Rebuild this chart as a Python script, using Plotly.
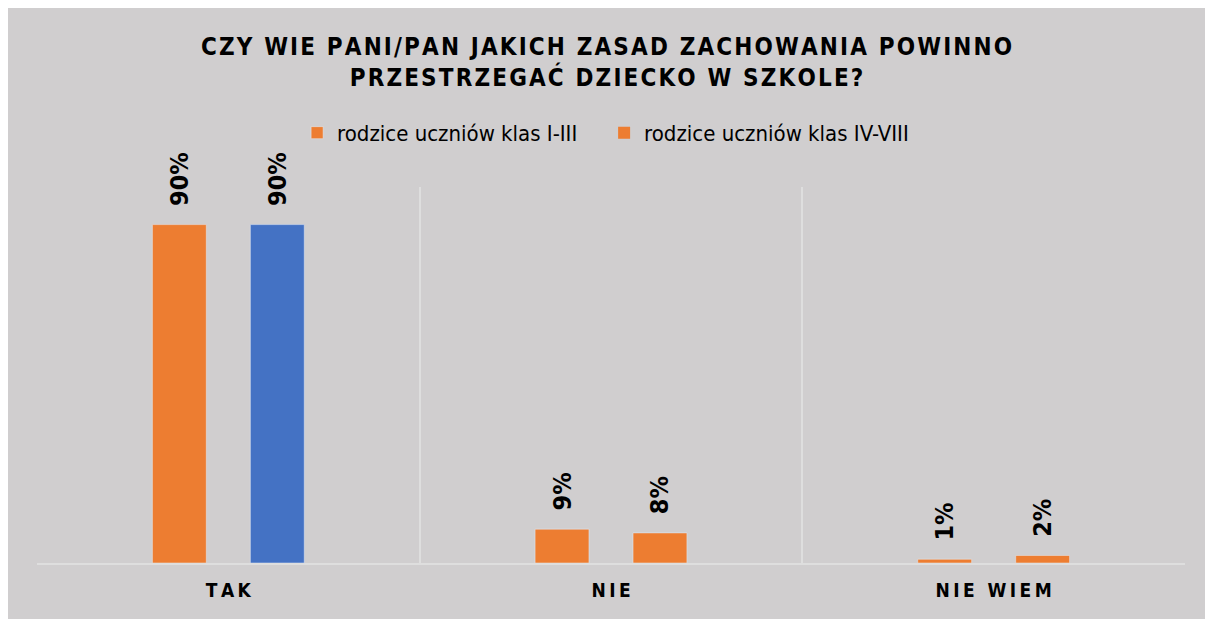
import plotly.graph_objects as go

categories = ["TAK", "NIE", "NIE WIEM"]
series_names = ["rodzice uczniów klas I-III", "rodzice uczniów klas IV-VIII"]
values_1_3 = [90, 9, 1]
values_4_8 = [90, 8, 2]
title_lines = ["CZY WIE PANI/PAN JAKICH ZASAD ZACHOWANIA POWINNO", "PRZESTRZEGAĆ DZIECKO W SZKOLE?"]

ORANGE = "#ed7d31"
BLUE = "#4472c4"
BG = "#d0cecf"
FONT = "DejaVu Sans Condensed, DejaVu Sans, sans-serif"


def spaced(s, sep="\u200a"):
    return sep.join(list(s))


def labels(vals):
    return ["\u00a0\u00a0" + f"{v}%" for v in vals]


label_font = dict(family=FONT, size=25, color="#000000", weight="bold")

fig = go.Figure()
fig.add_trace(go.Bar(
    x=categories, y=values_1_3, name=series_names[0],
    marker=dict(color=ORANGE),
    text=labels(values_1_3), textposition="outside", textangle=-90,
    textfont=label_font, constraintext="none",
    cliponaxis=False,
))
fig.add_trace(go.Bar(
    x=categories, y=values_4_8, name=series_names[1],
    marker=dict(color=[BLUE, ORANGE, ORANGE]),
    text=labels(values_4_8), textposition="outside", textangle=-90,
    textfont=label_font, constraintext="none",
    cliponaxis=False, showlegend=False,
))
# legend swatch for the second series is orange in the reference
fig.add_trace(go.Scatter(
    x=[None], y=[None], mode="markers", name=series_names[1],
    marker=dict(symbol="square", size=12, color=ORANGE),
))

fig.update_layout(
    width=1197, height=611,
    paper_bgcolor=BG, plot_bgcolor=BG,
    margin=dict(l=29, r=20, t=179, b=56),
    barmode="group", bargap=0.488, bargroupgap=0.45,
    title=dict(
        text="<br>".join(spaced(t) for t in title_lines),
        x=0.5, xanchor="center", y=0.923, yanchor="top",
        font=dict(family=FONT, size=24, color="#000000", weight="bold"),
    ),
    legend=dict(
        orientation="h", x=0.494, xanchor="center", y=1.144, yanchor="middle",
        font=dict(family=FONT, size=22, color="#000000"),
        bgcolor="rgba(0,0,0,0)", itemwidth=30, tracegroupgap=0,
        entrywidth=262, entrywidthmode="pixels",
    ),
    showlegend=True,
)
fig.update_xaxes(
    type="category", tickson="boundaries", showgrid=True, gridcolor="#dedede", gridwidth=1.5,
    showline=True, linecolor="#dedede", linewidth=1.5, ticks="",
    tickvals=categories, ticktext=[spaced(c, "\u2009") for c in categories],
    tickfont=dict(family=FONT, size=19, color="#000000", weight="bold"),
    ticklabelstandoff=9,
)
fig.update_yaxes(range=[0, 100], showgrid=False, showticklabels=False, zeroline=False, showline=False)

fig.write_html("out.html")
